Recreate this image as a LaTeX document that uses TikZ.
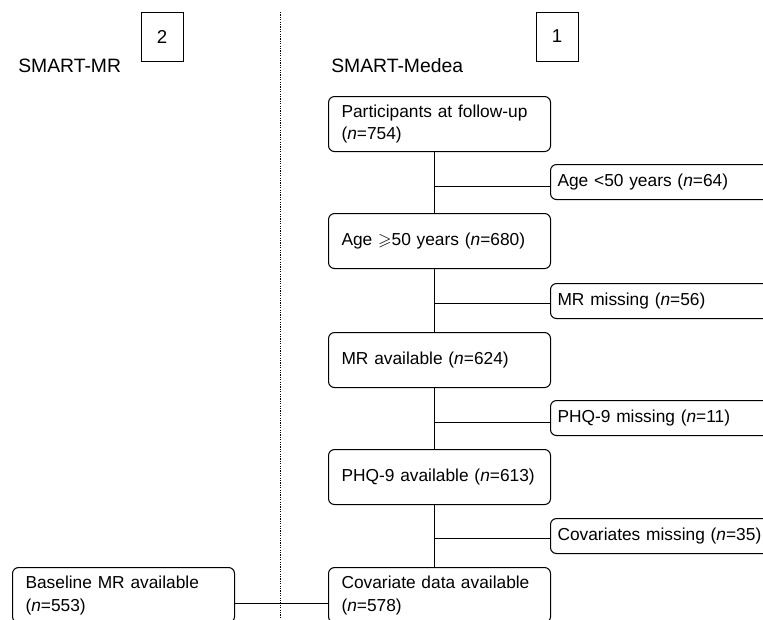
\documentclass[tikz,border=0pt]{standalone}
\usepackage{amssymb}
\usepackage{fontspec}
\setmainfont{Liberation Sans}
\usetikzlibrary{positioning,calc}
\tikzset{
  mainbox/.style={draw, line width=0.8pt, rounded corners=4.5pt, anchor=north west, align=left,
    text width=147pt, inner xsep=9.75pt, minimum height=41.25pt, font=\fontsize{13}{17.2}\selectfont},
  sidebox/.style={draw, line width=0.8pt, rounded corners=4.5pt, anchor=north west, align=left,
    text width=170pt, inner xsep=5.25pt, minimum height=26.25pt, font=\fontsize{13}{17.2}\selectfont},
  numbox/.style={draw, line width=0.7pt, minimum width=31.5pt, minimum height=36.75pt, font=\fontsize{14}{17}\selectfont},
  cohort/.style={anchor=west, inner sep=0pt, font=\fontsize{14.5}{17}\selectfont},
  link/.style={line width=0.75pt},
  divider/.style={line width=0.6pt, dash pattern=on 0.9pt off 0.9pt},
}
\begin{document}
\begin{tikzpicture}[x=0.75pt,y=-0.75pt]
  \useasboundingbox (0,0) rectangle (763,619);
  \clip (0,0) rectangle (763,619);
  % headings
  \node[numbox] (num2) at (162,36.5) {2};
  \node[numbox] (num1) at (557,36.5) {1};
  \node[cohort] (mrtitle) at (18,65.5) {SMART-MR};
  \node[cohort] (medtitle) at (331,65.5) {SMART-Medea};
  \coordinate (divtop) at (280,12);
  \coordinate (divbot) at (280,619);
  \draw[divider] (divtop) -- (divbot);
  % main flow
  \coordinate (trunk) at (434,0);
  \node[mainbox] (part) at (328,96) {Participants at follow-up\\(\textit{n}=754)};
  \node[mainbox] (age) at (328,213) {Age $\geqslant$50 years (\textit{n}=680)};
  \node[mainbox] (mravail) at (328,332) {MR available (\textit{n}=624)};
  \node[mainbox] (phqavail) at (328,449) {PHQ-9 available (\textit{n}=613)};
  \node[mainbox] (covar) at (328,567) {Covariate data available\\(\textit{n}=578)};
  % exclusions
  \node[sidebox] (young) at (550,164) {Age <50 years (\textit{n}=64)};
  \node[sidebox] (mrmiss) at (550,283) {MR missing (\textit{n}=56)};
  \node[sidebox] (phqmiss) at (550,400) {PHQ-9 missing (\textit{n}=11)};
  \node[sidebox] (covmiss) at (550,518) {Covariates missing (\textit{n}=35)};
  % SMART-MR
  \node[mainbox] (base) at (12,567) {Baseline MR available\\(\textit{n}=553)};
  \draw[link] (part.south -| trunk) -- (age.north -| trunk);
  \draw[link] (age.south -| trunk) -- (mravail.north -| trunk);
  \draw[link] (mravail.south -| trunk) -- (phqavail.north -| trunk);
  \draw[link] (phqavail.south -| trunk) -- (covar.north -| trunk);
  \draw[link] ([yshift=-3pt]young.west) -- ([yshift=-3pt]young.west -| trunk);
  \draw[link] ([yshift=-2pt]mrmiss.west) -- ([yshift=-2pt]mrmiss.west -| trunk);
  \draw[link] ([yshift=-3pt]phqmiss.west) -- ([yshift=-3pt]phqmiss.west -| trunk);
  \draw[link] ([yshift=-2pt]covmiss.west) -- ([yshift=-2pt]covmiss.west -| trunk);
  \draw[link] ([yshift=-6pt]base.east) -- ([yshift=-6pt]covar.west);
\end{tikzpicture}
\end{document}
